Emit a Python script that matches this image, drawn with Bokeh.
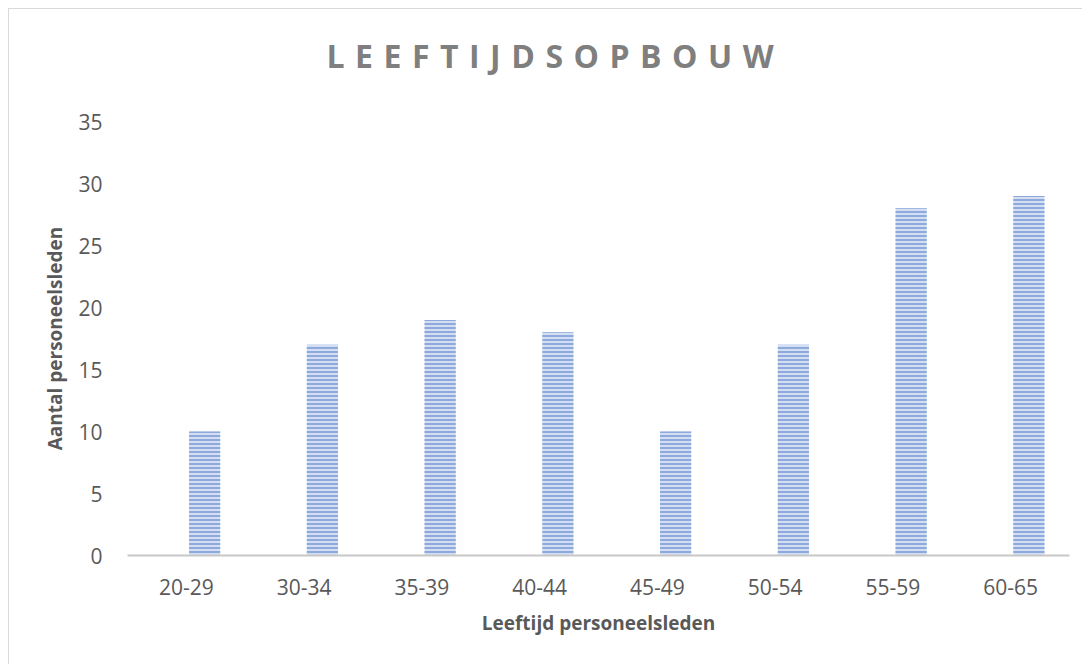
from bokeh.plotting import figure
from bokeh.embed import file_html
from bokeh.resources import INLINE
from bokeh.layouts import column
from bokeh.models import ColumnDataSource, FixedTicker, Label
from bokeh.transform import dodge

categories = ["20-29", "30-34", "35-39", "40-44", "45-49", "50-54", "55-59", "60-65"]
counts = [10, 17, 19, 18, 10, 17, 28, 29]
y_ticks = [0, 5, 10, 15, 20, 25, 30, 35]
title_text = "LEEFTIJDSOPBOUW"

FONT = "Open Sans"

# --- title strip (own figure so CSS letter-spacing applies to it only) ---
tf = figure(width=1074, height=100, x_range=(0, 1074), y_range=(0, 100),
            output_backend="svg", toolbar_location=None,
            min_border_left=0, min_border_right=0, min_border_top=0, min_border_bottom=0)
tf.axis.visible = False
tf.grid.visible = False
tf.outline_line_color = None
tf.styles = {"letter-spacing": "10.5px"}
tf.add_layout(Label(x=398, y=54, text=title_text, text_align="center", text_baseline="middle",
                    text_font=FONT, text_font_size="32px", text_font_style="bold",
                    text_color="#7f7f7f"))

# --- main chart ---
source = ColumnDataSource(data=dict(cat=categories, n=counts))

p = figure(
    x_range=categories, y_range=(0, 35),
    width=1074, height=556,
    output_backend="svg", toolbar_location=None,
    min_border_left=118, min_border_right=14, min_border_top=12, min_border_bottom=110,
)

p.vbar(x=dodge("cat", 0.155, range=p.x_range), top="n", width=0.265, source=source,
       fill_color="#d3def3", line_color=None,
       hatch_pattern="horizontal_line", hatch_color="#8eaadc", hatch_scale=4, hatch_weight=2)

p.outline_line_color = None
p.xgrid.grid_line_color = None
p.ygrid.grid_line_color = None
p.x_range.range_padding = 0

p.yaxis.ticker = FixedTicker(ticks=y_ticks)
p.yaxis.axis_line_color = None
p.yaxis.major_tick_line_color = None
p.yaxis.minor_tick_line_color = None
p.yaxis.major_label_standoff = 19
p.yaxis.axis_label = "Aantal personeelsleden"

p.xaxis.axis_line_color = "#c8c8c8"
p.xaxis.axis_line_width = 2
p.xaxis.major_tick_line_color = None
p.xaxis.minor_tick_line_color = None
p.xaxis.major_label_standoff = 17
p.xaxis.axis_label = "Leeftijd personeelsleden"

for ax in (p.xaxis, p.yaxis):
    ax.major_label_text_font = FONT
    ax.major_label_text_font_size = "21px"
    ax.major_label_text_color = "#595959"
    ax.axis_label_text_font = FONT
    ax.axis_label_text_font_size = "19px"
    ax.axis_label_text_font_style = "bold"
    ax.axis_label_text_color = "#595959"
p.xaxis.axis_label_standoff = 12
p.yaxis.axis_label_standoff = 7

layout = column(tf, p, spacing=0)
layout.styles = {"margin-left": "8px", "margin-top": "8px",
                 "border-top": "1px solid #d9d9d9", "border-left": "1px solid #d9d9d9"}

open("out.html", "w").write(file_html(layout, INLINE))
